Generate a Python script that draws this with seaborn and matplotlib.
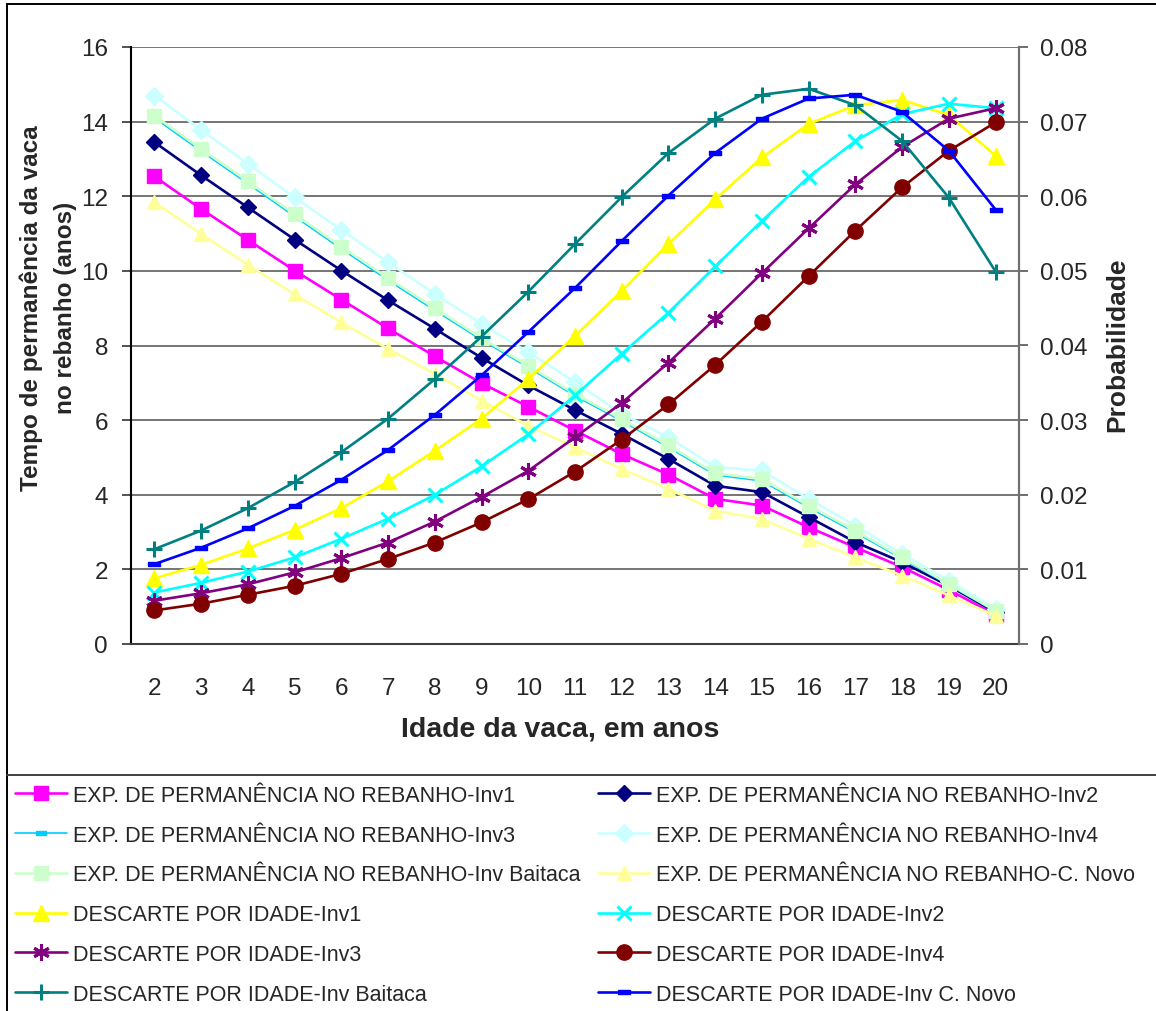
import numpy as np
import pandas as pd
import matplotlib
matplotlib.use("Agg")
import matplotlib.pyplot as plt
import seaborn as sns
from matplotlib.lines import Line2D

# ---------------- data ----------------
ages = list(range(2, 21))

exp_inv1 = [12.53, 11.66, 10.83, 10.01, 9.23, 8.46, 7.71, 6.99, 6.36, 5.72, 5.09, 4.54, 3.89, 3.71, 3.13, 2.59, 2.06, 1.45, 0.78]
exp_inv2 = [13.45, 12.56, 11.70, 10.84, 10.01, 9.21, 8.45, 7.67, 6.93, 6.27, 5.63, 4.96, 4.24, 4.07, 3.40, 2.73, 2.19, 1.56, 0.85]
exp_inv3 = [14.10, 13.21, 12.34, 11.46, 10.59, 9.75, 8.94, 8.15, 7.41, 6.65, 5.98, 5.27, 4.53, 4.37, 3.66, 2.99, 2.28, 1.58, 0.87]
exp_inv4 = [14.70, 13.78, 12.87, 11.97, 11.10, 10.23, 9.38, 8.58, 7.82, 7.02, 6.17, 5.54, 4.74, 4.65, 3.89, 3.17, 2.41, 1.70, 0.94]
exp_baitaca = [14.16, 13.27, 12.40, 11.52, 10.65, 9.81, 9.00, 8.20, 7.46, 6.70, 6.03, 5.32, 4.58, 4.42, 3.71, 3.04, 2.32, 1.61, 0.89]
exp_cnovo = [11.84, 10.99, 10.16, 9.37, 8.62, 7.91, 7.24, 6.52, 5.85, 5.27, 4.69, 4.16, 3.57, 3.35, 2.82, 2.32, 1.83, 1.30, 0.76]

desc_inv1 = [0.0088, 0.0106, 0.0128, 0.0153, 0.0182, 0.0218, 0.0259, 0.0302, 0.0355, 0.0413, 0.0473, 0.0536, 0.0596, 0.0652, 0.0697, 0.0722, 0.0729, 0.0709, 0.0654]
desc_inv2 = [0.0069, 0.0082, 0.0097, 0.0116, 0.0141, 0.0168, 0.0200, 0.0238, 0.0281, 0.0333, 0.0389, 0.0444, 0.0506, 0.0567, 0.0626, 0.0674, 0.0710, 0.0724, 0.0718]
desc_inv3 = [0.0058, 0.0068, 0.0080, 0.0096, 0.0115, 0.0136, 0.0164, 0.0197, 0.0232, 0.0277, 0.0323, 0.0377, 0.0436, 0.0497, 0.0557, 0.0616, 0.0666, 0.0704, 0.0718]
desc_inv4 = [0.0045, 0.0054, 0.0066, 0.0078, 0.0094, 0.0114, 0.0136, 0.0163, 0.0194, 0.0231, 0.0274, 0.0321, 0.0374, 0.0432, 0.0493, 0.0554, 0.0612, 0.0661, 0.0699]
desc_baitaca = [0.0127, 0.0152, 0.0182, 0.0217, 0.0257, 0.0302, 0.0355, 0.0412, 0.0472, 0.0536, 0.0599, 0.0658, 0.0704, 0.0736, 0.0744, 0.0722, 0.0674, 0.0598, 0.0499]
desc_cnovo = [0.0107, 0.0129, 0.0155, 0.0185, 0.0220, 0.0260, 0.0307, 0.0360, 0.0418, 0.0477, 0.0540, 0.0601, 0.0658, 0.0704, 0.0731, 0.0736, 0.0713, 0.0661, 0.0582]

exp_labels = ["EXP. DE PERMANÊNCIA NO REBANHO-Inv1", "EXP. DE PERMANÊNCIA NO REBANHO-Inv2",
              "EXP. DE PERMANÊNCIA NO REBANHO-Inv3", "EXP. DE PERMANÊNCIA NO REBANHO-Inv4",
              "EXP. DE PERMANÊNCIA NO REBANHO-Inv Baitaca", "EXP. DE PERMANÊNCIA NO REBANHO-C. Novo"]
desc_labels = ["DESCARTE POR IDADE-Inv1", "DESCARTE POR IDADE-Inv2", "DESCARTE POR IDADE-Inv3",
               "DESCARTE POR IDADE-Inv4", "DESCARTE POR IDADE-Inv Baitaca", "DESCARTE POR IDADE-Inv C. Novo"]

left_ticks = [0, 2, 4, 6, 8, 10, 12, 14, 16]
right_ticks = [0, 0.01, 0.02, 0.03, 0.04, 0.05, 0.06, 0.07, 0.08]
right_tick_labels = ["0", "0.01", "0.02", "0.03", "0.04", "0.05", "0.06", "0.07", "0.08"]

# ---------------- styles ----------------
dash = [(-1, -0.38), (1, -0.38), (1, 0.38), (-1, 0.38), (-1, -0.38)]
star = (6, 2, 0)
exp_styles = [
    dict(color="#FF00FF", marker="s", ms=10, lw=1.9),
    dict(color="#000080", marker="D", ms=8.5, lw=1.9),
    dict(color="#00CCFF", marker=dash, ms=7, lw=1.2),
    dict(color="#CCFFFF", marker="D", ms=9, lw=1.9),
    dict(color="#CCFFCC", marker="s", ms=10, lw=1.9),
    dict(color="#FFFF99", marker="^", ms=10.5, lw=1.9),
]
desc_styles = [
    dict(color="#FFFF00", marker="^", ms=11, lw=1.9),
    dict(color="#00FFFF", marker="x", ms=10, lw=1.9, mew=2.2),
    dict(color="#800080", marker=star, ms=12, lw=1.9, mew=2.2),
    dict(color="#800000", marker="o", ms=11, lw=1.9),
    dict(color="#008080", marker="+", ms=12, lw=1.9, mew=2.2),
    dict(color="#0000FF", marker=dash, ms=8, lw=1.9),
]

exp_data = [exp_inv1, exp_inv2, exp_inv3, exp_inv4, exp_baitaca, exp_cnovo]
desc_data = [desc_inv1, desc_inv2, desc_inv3, desc_inv4, desc_baitaca, desc_cnovo]

sns.set_style("white")
plt.rcParams["font.family"] = ["Liberation Sans", "DejaVu Sans"]

W, H = 1156, 1012
fig = plt.figure(figsize=(W / 100, H / 100), dpi=100)
ax = fig.add_axes([131 / W, 1 - 645 / H, (1019 - 131) / W, (645 - 48) / H])
ax2 = ax.twinx()


def draw(axis, x, y, st, label):
    mew = st.get("mew", 1.0)
    sns.lineplot(x=x, y=y, ax=axis, color=st["color"], marker=st["marker"],
                 markersize=st["ms"], linewidth=st["lw"], markeredgecolor=st["color"],
                 markerfacecolor=st["color"], markeredgewidth=mew, legend=False,
                 errorbar=None, sort=False)
    line = axis.get_lines()[-1]
    line.set_label(label)
    return line


handles = []
for vals, st, lab in zip(exp_data, exp_styles, exp_labels):
    handles.append(draw(ax, ages, vals, st, lab))
for vals, st, lab in zip(desc_data, desc_styles, desc_labels):
    handles.append(draw(ax2, ages, vals, st, lab))

# ---------------- axes ----------------
ax.set_xlim(1.5, 20.5)
ax.set_ylim(0, 16)
ax2.set_ylim(0, 0.08)

ax.set_xticks(ages)
ax.set_xticklabels([str(a) for a in ages])
ax.set_xticks(np.arange(1.5, 21, 1), minor=True)
ax.tick_params(axis="x", which="major", length=0, pad=24, labelsize=17.5)
ax.tick_params(axis="x", which="minor", direction="inout", length=12, width=1.2, color="#333333")

ax.set_yticks(left_ticks)
ax.set_yticklabels([str(t) for t in left_ticks])
ax.tick_params(axis="y", which="major", direction="out", length=6.5, width=1.2, pad=10,
               labelsize=17.5, color="#333333", left=True)
ax2.set_yticks(right_ticks)
ax2.set_yticklabels(right_tick_labels)
ax2.tick_params(axis="y", which="major", direction="out", length=6.5, width=1.2, pad=8.5,
                labelsize=17.5, color="#555555", right=True)

ax.yaxis.grid(True, color="#6a6a6a", linewidth=1.3)
ax.set_axisbelow(True)
ax.xaxis.grid(False)
ax2.grid(False)

for s in ["top", "right"]:
    ax.spines[s].set_visible(False)
for s in ["top", "left", "bottom"]:
    ax2.spines[s].set_visible(False)
ax.spines["left"].set_color("black")
ax.spines["left"].set_linewidth(1.5)
ax.spines["bottom"].set_color("#404040")
ax.spines["bottom"].set_linewidth(1.5)
ax2.spines["right"].set_color("#707070")
ax2.spines["right"].set_linewidth(1.6)

ax.set_xlabel("Idade da vaca, em anos", fontsize=20.5, fontweight="bold")
ax.xaxis.label.set_va("center")
ax.xaxis.set_label_coords((560 - 131) / 888, (645 - 730) / 597)

ax.set_ylabel("Tempo de permanência da vaca\nno rebanho (anos)", fontsize=17.5,
              fontweight="bold", linespacing=1.6)
ax.yaxis.label.set_va("center")
ax.yaxis.label.set_ha("center")
ax.yaxis.set_label_coords((48 - 131) / 888, (645 - 308) / 597)

ax2.set_ylabel("Probabilidade", fontsize=19, fontweight="bold")
ax2.yaxis.label.set_va("center")
ax2.yaxis.label.set_ha("center")
ax2.yaxis.set_label_coords((1117 - 131) / 888, (645 - 345) / 597)

# ---------------- frame lines ----------------
fig.add_artist(Line2D([7 / W, 7 / W], [0, 1 - 5 / H], color="black", lw=1.4, transform=fig.transFigure))
fig.add_artist(Line2D([7 / W, 1], [1 - 5 / H, 1 - 5 / H], color="black", lw=1.4, transform=fig.transFigure))
fig.add_artist(Line2D([7 / W, 1], [1 - 776 / H, 1 - 776 / H], color="#404040", lw=1.4, transform=fig.transFigure))

# ---------------- legend (two columns, row-wise order) ----------------
left_col = handles[0::2]
right_col = handles[1::2]
common = dict(frameon=False, fontsize=15.5, handlelength=2.42, handletextpad=0.27,
              labelspacing=0.87, borderpad=0, borderaxespad=0, loc="upper left",
              bbox_transform=fig.transFigure)
leg1 = fig.legend(handles=left_col, labels=[h.get_label() for h in left_col],
                  bbox_to_anchor=(15 / W, 1 - 786 / H), **common)
leg2 = fig.legend(handles=right_col, labels=[h.get_label() for h in right_col],
                  bbox_to_anchor=(598 / W, 1 - 786 / H), **common)

fig.savefig("out.png", dpi=100)
